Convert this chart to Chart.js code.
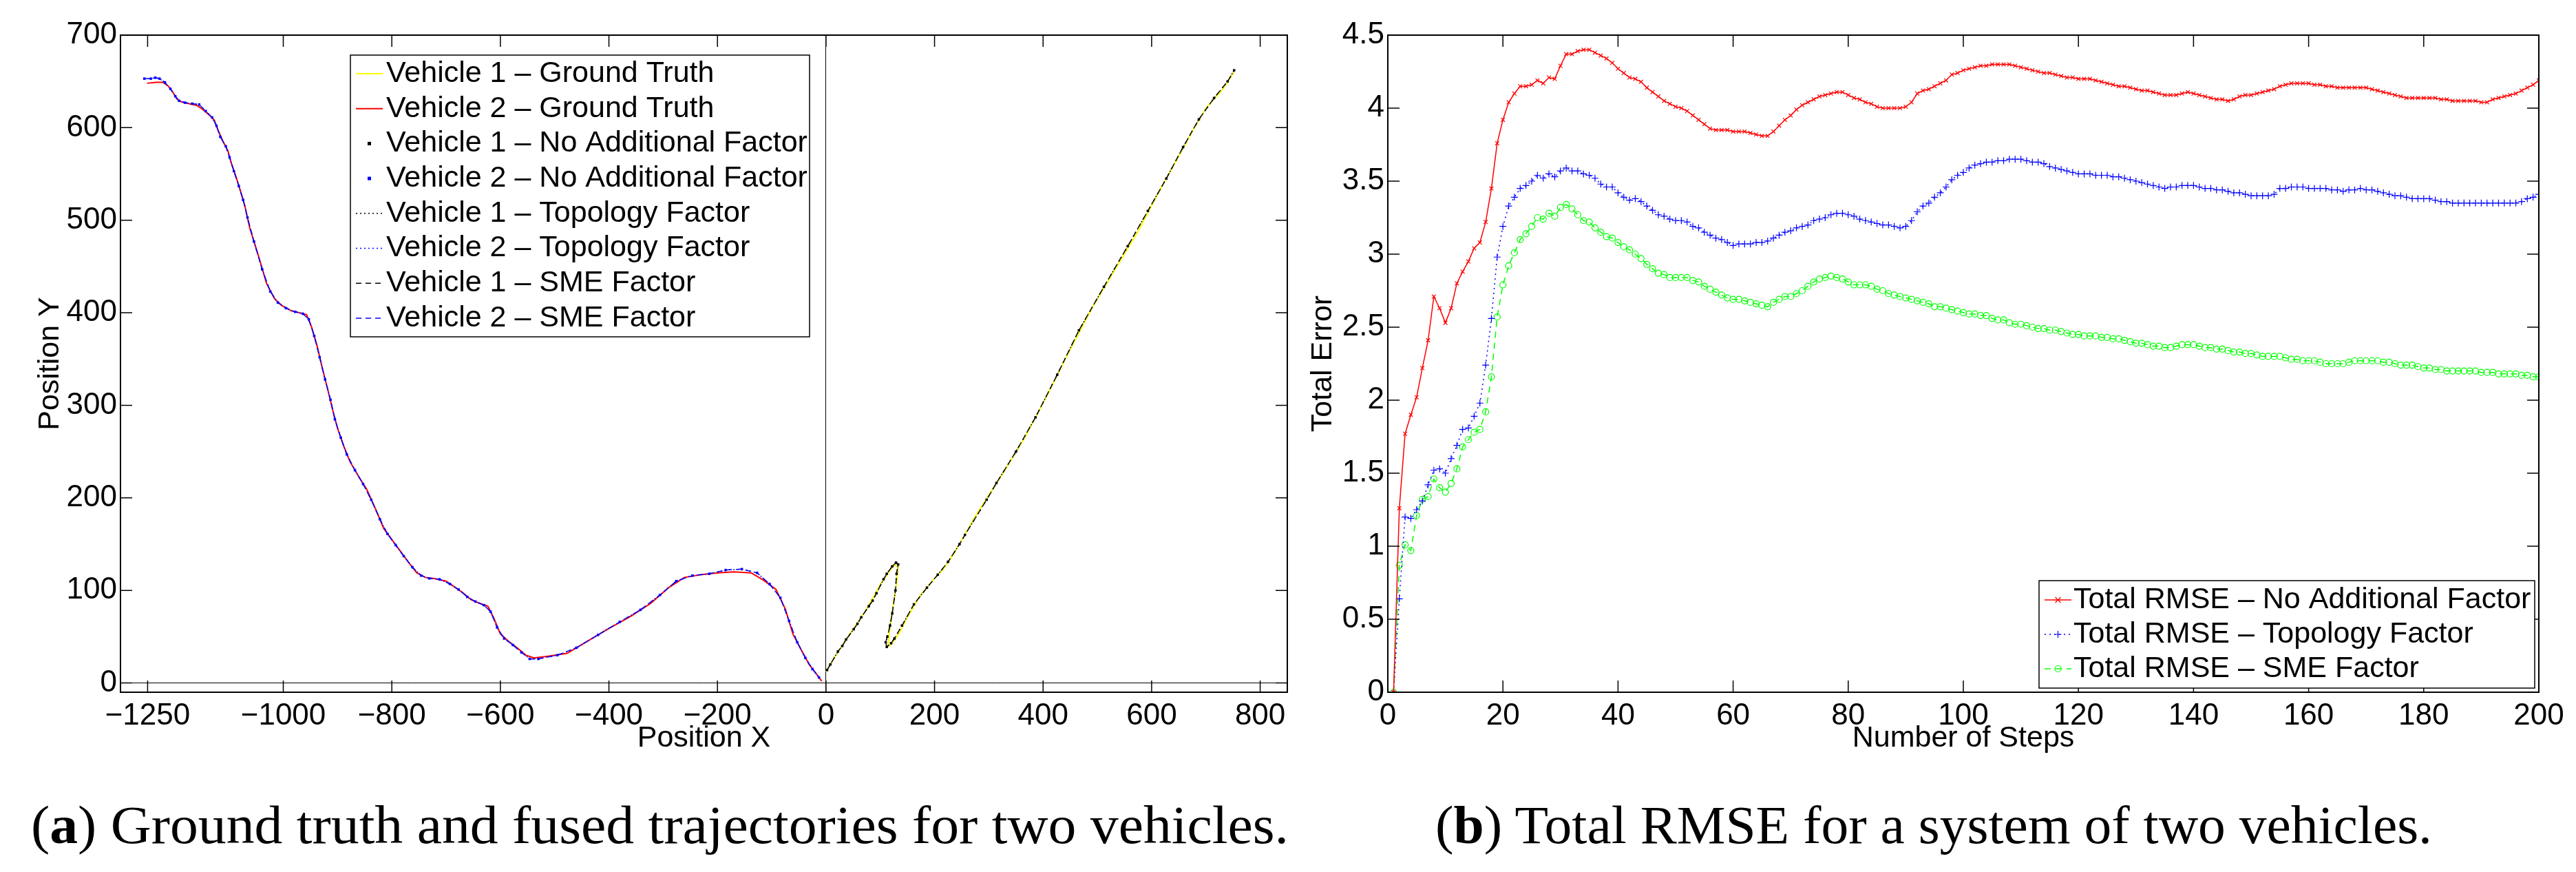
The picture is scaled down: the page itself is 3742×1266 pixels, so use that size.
<!DOCTYPE html>
<html>
<head>
<meta charset="utf-8">
<script src="https://cdn.jsdelivr.net/npm/chart.js@4.4.0/dist/chart.umd.min.js"></script>
<style>
  html, body { margin: 0; padding: 0; background: #fff; }
  body { width: 3742px; height: 1266px; position: relative; overflow: hidden; }
  .panel { position: absolute; top: 0; height: 1110px; }
  #leftPanel { left: 0; width: 1880px; }
  #rightPanel { left: 1880px; width: 1862px; }
  .caption { position: absolute; top: 1159px; font-family: "Liberation Serif", serif; font-size: 78px;
             line-height: 78px; white-space: nowrap; transform-origin: left top; color: #000; }
</style>
</head>
<body>
<div class="panel" id="leftPanel"><canvas id="trajChart"></canvas></div>
<div class="panel" id="rightPanel"><canvas id="rmseChart"></canvas></div>
<div class="caption" id="capA" style="left:45px">(<b>a</b>) Ground truth and fused trajectories for two vehicles.</div>
<div class="caption" id="capB" style="left:2085px">(<b>b</b>) Total RMSE for a system of two vehicles.</div>
<script>
// ---- (a) trajectories ----
const xTicksTraj = [-1250, -1000, -800, -600, -400, -200, 0, 200, 400, 600, 800];
const yTicksTraj = [0, 100, 200, 300, 400, 500, 600, 700];

const v1TruthX = [0, 15, 44, 72, 100, 117, 127, 133, 131, 125, 119, 116, 114, 118, 133, 151, 174, 197, 216, 236, 276, 333, 367, 406, 446, 491, 537, 576, 610, 644, 673, 701, 729, 752];
const v1TruthY = [12, 27, 53, 77, 106, 121, 128, 125, 112, 88, 65, 48, 40, 40, 52, 72, 95, 111, 123, 140, 181, 233, 266, 309, 356, 406, 451, 489, 527, 563, 594, 622, 640, 660];

const v1EstX = [2, 8, 22, 30, 37, 51, 58, 65, 79, 86, 93, 106, 112, 122, 129, 133, 130, 128, 122, 118, 113, 110, 112, 120, 126, 140, 162, 186, 206, 225, 246, 256, 296, 314, 350, 386, 426, 466, 512, 556, 593, 627, 658, 687, 715, 740, 752];
const v1EstY = [14, 20, 34, 40, 47, 58, 64, 71, 83, 89, 97, 112, 118, 126, 130, 128, 118, 100, 75, 62, 50, 44, 39, 43, 48, 62, 85, 103, 117, 131, 150, 160, 198, 216, 250, 287, 333, 381, 428, 472, 510, 545, 579, 609, 632, 650, 662];

const v2TruthX = [-1251, -1234, -1222, -1212, -1203, -1196, -1188, -1174, -1159, -1149, -1135, -1127, -1120, -1111, -1102, -1096, -1086, -1077, -1071, -1062, -1046, -1031, -1016, -1003, -985, -970, -957, -948, -938, -928, -918, -909, -900, -888, -877, -860, -846, -830, -815, -800, -785, -770, -754, -738, -723, -700, -685, -668, -654, -638, -623, -612, -600, -585, -569, -553, -538, -510, -477, -440, -400, -360, -323, -290, -261, -230, -200, -170, -138, -115, -92, -75, -61, -45, -31, -18, -8];
const v2TruthY = [648, 649, 649, 645, 638, 631, 628, 626, 624, 620, 613, 608, 597, 585, 575, 562, 545, 528, 516, 492, 462, 432, 415, 408, 402, 400, 398, 385, 365, 340, 317, 295, 275, 255, 239, 222, 209, 188, 167, 155, 143, 131, 119, 114, 113, 110, 104, 97, 90, 86, 83, 70, 53, 45, 38, 30, 27, 29, 32, 45, 59, 72, 86, 103, 114, 117, 119, 120, 119, 111, 101, 80, 53, 35, 20, 10, 2];

const v2EstX = [-1256, -1244, -1236, -1228, -1218, -1208, -1199, -1192, -1181, -1168, -1155, -1143, -1131, -1123, -1116, -1106, -1099, -1091, -1082, -1074, -1066, -1054, -1039, -1024, -1010, -995, -978, -964, -953, -943, -933, -923, -913, -905, -894, -883, -868, -853, -838, -822, -808, -793, -778, -762, -746, -731, -712, -693, -677, -661, -646, -630, -618, -606, -593, -577, -561, -546, -530, -495, -460, -420, -380, -342, -306, -276, -246, -215, -185, -155, -127, -104, -84, -68, -53, -38, -25, -13];
const v2EstY = [653, 653, 654, 653, 649, 642, 634, 629, 627, 626, 625, 618, 611, 602, 590, 580, 568, 553, 537, 522, 503, 477, 447, 423, 411, 405, 401, 399, 393, 375, 352, 328, 306, 285, 265, 247, 230, 215, 198, 177, 161, 149, 137, 125, 116, 113, 112, 107, 101, 93, 88, 84, 77, 60, 48, 41, 33, 26, 26, 30, 38, 52, 66, 79, 95, 110, 116, 118, 122, 123, 119, 107, 92, 67, 44, 27, 15, 6];

// ---- (b) total RMSE per step (steps 1..200) ----
const stepTicks = [0, 20, 40, 60, 80, 100, 120, 140, 160, 180, 200];
const errTicks = [0, 0.5, 1, 1.5, 2, 2.5, 3, 3.5, 4, 4.5];

const rmseNone = [0, 1.26, 1.77, 1.90, 2.02, 2.22, 2.41, 2.71, 2.63, 2.53, 2.63, 2.80, 2.88, 2.95, 3.04, 3.08, 3.22, 3.45, 3.76, 3.92,
  4.04, 4.10, 4.15, 4.15, 4.16, 4.19, 4.17, 4.21, 4.20, 4.29, 4.37, 4.37, 4.39, 4.40, 4.40, 4.38, 4.36, 4.34, 4.31, 4.27,
  4.24, 4.21, 4.20, 4.18, 4.14, 4.11, 4.08, 4.05, 4.03, 4.01, 4.00, 3.98, 3.95, 3.92, 3.89, 3.86, 3.85, 3.85, 3.85, 3.84,
  3.84, 3.84, 3.83, 3.82, 3.81, 3.81, 3.84, 3.88, 3.92, 3.95, 3.99, 4.02, 4.04, 4.06, 4.08, 4.09, 4.10, 4.11, 4.11, 4.09,
  4.07, 4.06, 4.04, 4.03, 4.01, 4.00, 4.00, 4.00, 4.00, 4.01, 4.04, 4.10, 4.12, 4.13, 4.15, 4.17, 4.19, 4.23, 4.24, 4.26,
  4.27, 4.28, 4.29, 4.29, 4.30, 4.30, 4.30, 4.30, 4.29, 4.28, 4.27, 4.26, 4.25, 4.24, 4.24, 4.23, 4.22, 4.21, 4.21, 4.20,
  4.20, 4.20, 4.19, 4.18, 4.17, 4.16, 4.15, 4.15, 4.14, 4.13, 4.12, 4.12, 4.11, 4.10, 4.09, 4.09, 4.09, 4.10, 4.11, 4.10,
  4.09, 4.08, 4.07, 4.06, 4.06, 4.05, 4.06, 4.08, 4.09, 4.09, 4.10, 4.11, 4.12, 4.13, 4.15, 4.16, 4.17, 4.17, 4.17, 4.17,
  4.16, 4.16, 4.15, 4.15, 4.14, 4.14, 4.14, 4.14, 4.14, 4.14, 4.13, 4.12, 4.11, 4.10, 4.09, 4.08, 4.07, 4.07, 4.07, 4.07,
  4.07, 4.07, 4.06, 4.06, 4.05, 4.05, 4.05, 4.05, 4.05, 4.04, 4.04, 4.06, 4.07, 4.08, 4.09, 4.10, 4.12, 4.14, 4.16, 4.19];

const rmseTopology = [0, 0.64, 1.20, 1.19, 1.25, 1.31, 1.42, 1.52, 1.53, 1.50, 1.60, 1.69, 1.80, 1.81, 1.89, 1.98, 2.24, 2.56, 2.98, 3.19,
  3.33, 3.39, 3.45, 3.47, 3.50, 3.54, 3.52, 3.55, 3.53, 3.57, 3.59, 3.57, 3.57, 3.55, 3.54, 3.52, 3.48, 3.46, 3.46, 3.42,
  3.39, 3.37, 3.38, 3.36, 3.33, 3.30, 3.27, 3.26, 3.24, 3.23, 3.23, 3.22, 3.19, 3.18, 3.15, 3.13, 3.11, 3.10, 3.08, 3.06,
  3.07, 3.07, 3.07, 3.08, 3.08, 3.09, 3.11, 3.13, 3.15, 3.16, 3.18, 3.19, 3.20, 3.23, 3.24, 3.25, 3.27, 3.28, 3.28, 3.27,
  3.26, 3.24, 3.23, 3.22, 3.21, 3.20, 3.20, 3.19, 3.18, 3.19, 3.23, 3.29, 3.33, 3.35, 3.39, 3.42, 3.46, 3.51, 3.54, 3.56,
  3.59, 3.61, 3.62, 3.63, 3.63, 3.64, 3.64, 3.65, 3.65, 3.65, 3.64, 3.63, 3.63, 3.62, 3.60, 3.59, 3.58, 3.57, 3.56, 3.55,
  3.55, 3.55, 3.54, 3.54, 3.54, 3.53, 3.53, 3.52, 3.51, 3.50, 3.49, 3.48, 3.47, 3.46, 3.45, 3.46, 3.46, 3.47, 3.47, 3.47,
  3.46, 3.45, 3.45, 3.44, 3.44, 3.43, 3.42, 3.42, 3.41, 3.40, 3.40, 3.40, 3.40, 3.41, 3.45, 3.45, 3.46, 3.46, 3.46, 3.45,
  3.45, 3.45, 3.45, 3.44, 3.44, 3.43, 3.44, 3.44, 3.45, 3.44, 3.44, 3.43, 3.42, 3.41, 3.40, 3.40, 3.39, 3.38, 3.38, 3.38,
  3.38, 3.37, 3.36, 3.36, 3.35, 3.35, 3.35, 3.35, 3.35, 3.35, 3.35, 3.35, 3.35, 3.35, 3.35, 3.35, 3.36, 3.38, 3.39, 3.41];

const rmseSme = [0, 0.87, 1.01, 0.97, 1.21, 1.32, 1.34, 1.46, 1.40, 1.37, 1.43, 1.53, 1.68, 1.73, 1.78, 1.80, 1.92, 2.16, 2.57, 2.79,
  2.92, 3.01, 3.10, 3.14, 3.19, 3.25, 3.24, 3.28, 3.26, 3.32, 3.34, 3.31, 3.27, 3.23, 3.22, 3.18, 3.15, 3.12, 3.11, 3.08,
  3.05, 3.03, 3.00, 2.97, 2.93, 2.90, 2.87, 2.86, 2.84, 2.84, 2.84, 2.84, 2.82, 2.81, 2.78, 2.76, 2.74, 2.72, 2.70, 2.69,
  2.69, 2.68, 2.67, 2.66, 2.65, 2.64, 2.67, 2.69, 2.71, 2.71, 2.73, 2.75, 2.78, 2.81, 2.83, 2.84, 2.85, 2.84, 2.83, 2.81,
  2.79, 2.79, 2.79, 2.78, 2.76, 2.75, 2.73, 2.72, 2.71, 2.70, 2.69, 2.68, 2.67, 2.66, 2.64, 2.64, 2.63, 2.62, 2.61, 2.60,
  2.59, 2.59, 2.58, 2.58, 2.56, 2.55, 2.55, 2.53, 2.52, 2.52, 2.51, 2.50, 2.49, 2.49, 2.48, 2.48, 2.47, 2.46, 2.45, 2.45,
  2.44, 2.44, 2.44, 2.43, 2.43, 2.42, 2.42, 2.41, 2.40, 2.39, 2.39, 2.38, 2.37, 2.37, 2.36, 2.36, 2.37, 2.38, 2.38, 2.38,
  2.37, 2.36, 2.36, 2.35, 2.35, 2.34, 2.33, 2.33, 2.32, 2.32, 2.31, 2.30, 2.30, 2.30, 2.30, 2.29, 2.28, 2.28, 2.27, 2.27,
  2.27, 2.26, 2.25, 2.25, 2.25, 2.25, 2.26, 2.27, 2.27, 2.27, 2.27, 2.27, 2.26, 2.26, 2.25, 2.24, 2.24, 2.24, 2.23, 2.22,
  2.22, 2.21, 2.21, 2.20, 2.20, 2.20, 2.20, 2.20, 2.20, 2.19, 2.19, 2.19, 2.18, 2.18, 2.18, 2.18, 2.17, 2.17, 2.16, 2.16];

const steps = rmseNone.map((_, i) => i + 1);

const pts = (xs, ys) => xs.map((x, i) => ({ x: x, y: ys[i] }));
const minusLabel = v => (v < 0 ? '\u2212' + Math.abs(v) : String(v));

Chart.defaults.font.family = '"Liberation Sans", Arial, sans-serif';
Chart.defaults.font.size = 44;
Chart.defaults.color = '#000';

function drawMarker(ctx, style, x, y, r) {
  ctx.beginPath();
  if (style === 'crossRot') {
    ctx.moveTo(x - r, y - r); ctx.lineTo(x + r, y + r);
    ctx.moveTo(x - r, y + r); ctx.lineTo(x + r, y - r);
    ctx.stroke();
  } else if (style === 'cross') {
    ctx.moveTo(x - r, y); ctx.lineTo(x + r, y);
    ctx.moveTo(x, y - r); ctx.lineTo(x, y + r);
    ctx.stroke();
  } else if (style === 'circle') {
    ctx.arc(x, y, r, 0, Math.PI * 2);
    ctx.stroke();
  } else {
    ctx.fillRect(x - r, y - r, 2 * r, 2 * r);
  }
}

// MATLAB-like box: inward ticks on all four sides, plus a boxed legend
const matlabFrame = {
  id: 'matlabFrame',
  afterDatasetsDraw(chart, args, opts) {
    const ctx = chart.ctx, a = chart.chartArea;
    const xs = chart.scales.x, ys = chart.scales.y;
    const len = opts.tickLen;
    ctx.save();
    ctx.strokeStyle = '#000';
    ctx.setLineDash([]);
    ctx.lineWidth = 1.5;
    ctx.beginPath();
    xs.ticks.forEach(t => {
      const p = xs.getPixelForValue(t.value);
      ctx.moveTo(p, a.bottom); ctx.lineTo(p, a.bottom - len);
      ctx.moveTo(p, a.top); ctx.lineTo(p, a.top + len);
    });
    ys.ticks.forEach(t => {
      const p = ys.getPixelForValue(t.value);
      ctx.moveTo(a.left, p); ctx.lineTo(a.left + len, p);
      ctx.moveTo(a.right, p); ctx.lineTo(a.right - len, p);
    });
    ctx.stroke();
    ctx.lineWidth = 2;
    ctx.strokeRect(a.left, a.top, a.right - a.left, a.bottom - a.top);

    const L = opts.legend;
    ctx.fillStyle = '#fff';
    ctx.fillRect(L.left, L.top, L.right - L.left, L.bottom - L.top);
    ctx.lineWidth = 1.5;
    ctx.strokeStyle = '#000';
    ctx.strokeRect(L.left, L.top, L.right - L.left, L.bottom - L.top);
    ctx.font = '43px "Liberation Sans", Arial, sans-serif';
    ctx.textBaseline = 'middle';
    ctx.textAlign = 'left';
    chart.data.datasets.forEach((ds, i) => {
      const y = L.rowTop + i * L.rowStep;
      if (ds.showLine) {
        ctx.strokeStyle = ds.borderColor;
        ctx.lineWidth = ds.borderWidth;
        ctx.setLineDash(ds.borderDash || []);
        ctx.beginPath();
        ctx.moveTo(L.sampleFrom, y); ctx.lineTo(L.sampleTo, y);
        ctx.stroke();
        ctx.setLineDash([]);
      }
      if (ds.pointRadius > 0) {
        ctx.strokeStyle = ds.borderColor;
        ctx.fillStyle = ds.borderColor;
        ctx.lineWidth = ds.pointBorderWidth || 1;
        drawMarker(ctx, ds.pointStyle, (L.sampleFrom + L.sampleTo) / 2, y, ds.pointRadius);
      }
      ctx.fillStyle = '#000';
      ctx.fillText(ds.label, L.textX, y);
    });
    ctx.restore();
  }
};

const zeroLine = c => (c.tick && c.tick.value === 0 ? '#000' : 'rgba(0,0,0,0)');

new Chart(document.getElementById('trajChart'), {
  type: 'scatter',
  data: {
    datasets: [
      { label: 'Vehicle 1 \u2013 Ground Truth', data: pts(v1TruthX, v1TruthY), showLine: true, borderColor: '#ffff00', borderWidth: 2, pointRadius: 0, order: 3 },
      { label: 'Vehicle 2 \u2013 Ground Truth', data: pts(v2TruthX, v2TruthY), showLine: true, borderColor: '#ff0000', borderWidth: 2, pointRadius: 0, order: 3 },
      { label: 'Vehicle 1 \u2013 No Additional Factor', data: pts(v1EstX, v1EstY), showLine: false, borderColor: '#000000', backgroundColor: '#000000', pointStyle: 'rect', pointRadius: 2.5, pointBorderWidth: 0, order: 1 },
      { label: 'Vehicle 2 \u2013 No Additional Factor', data: pts(v2EstX, v2EstY), showLine: false, borderColor: '#0000ff', backgroundColor: '#0000ff', pointStyle: 'rect', pointRadius: 2.5, pointBorderWidth: 0, order: 1 },
      { label: 'Vehicle 1 \u2013 Topology Factor', data: pts(v1EstX, v1EstY), showLine: true, borderColor: '#000000', borderWidth: 1.5, borderDash: [2, 4], pointRadius: 0, order: 2 },
      { label: 'Vehicle 2 \u2013 Topology Factor', data: pts(v2EstX, v2EstY), showLine: true, borderColor: '#0000ff', borderWidth: 1.5, borderDash: [2, 4], pointRadius: 0, order: 2 },
      { label: 'Vehicle 1 \u2013 SME Factor', data: pts(v1EstX, v1EstY), showLine: true, borderColor: '#000000', borderWidth: 1.5, borderDash: [8, 6], pointRadius: 0, order: 2 },
      { label: 'Vehicle 2 \u2013 SME Factor', data: pts(v2EstX, v2EstY), showLine: true, borderColor: '#0000ff', borderWidth: 1.5, borderDash: [8, 6], pointRadius: 0, order: 2 }
    ]
  },
  options: {
    responsive: true,
    maintainAspectRatio: false,
    animation: false,
    devicePixelRatio: 1,
    layout: { padding: { top: 51, right: 10, left: 0, bottom: 0 } },
    plugins: {
      legend: { display: false },
      tooltip: { enabled: false },
      matlabFrame: {
        tickLen: 17,
        legend: { left: 509, top: 80, right: 1176, bottom: 489, sampleFrom: 517, sampleTo: 556, textX: 561, rowTop: 107, rowStep: 50.7 }
      }
    },
    scales: {
      x: {
        type: 'linear', min: -1300, max: 850,
        afterBuildTicks: s => { s.ticks = xTicksTraj.map(v => ({ value: v })); },
        afterFit: s => { s.height = 105; },
        ticks: { padding: 8, callback: minusLabel },
        grid: { drawTicks: false, color: zeroLine, lineWidth: 1 },
        border: { display: false },
        title: { display: true, text: 'Position X', font: { size: 43 }, padding: { top: 0, bottom: 12 } }
      },
      y: {
        type: 'linear', min: -10, max: 700,
        afterBuildTicks: s => { s.ticks = yTicksTraj.map(v => ({ value: v })); },
        afterFit: s => { s.width = 175; },
        ticks: { padding: 5, callback: minusLabel },
        grid: { drawTicks: false, color: zeroLine, lineWidth: 1 },
        border: { display: false },
        title: { display: true, text: 'Position Y', font: { size: 43 }, padding: { top: 47, bottom: 0 } }
      }
    }
  },
  plugins: [matlabFrame]
});

new Chart(document.getElementById('rmseChart'), {
  type: 'line',
  data: {
    labels: steps,
    datasets: [
      { label: 'Total RMSE \u2013 No Additional Factor', data: pts(steps, rmseNone), showLine: true, borderColor: '#ff0000', backgroundColor: 'rgba(0,0,0,0)', borderWidth: 1.5, pointStyle: 'crossRot', pointRadius: 4, pointBorderWidth: 1.2, tension: 0 },
      { label: 'Total RMSE \u2013 Topology Factor', data: pts(steps, rmseTopology), showLine: true, borderColor: '#0000ff', backgroundColor: 'rgba(0,0,0,0)', borderWidth: 1.5, borderDash: [2, 5], pointStyle: 'cross', pointRadius: 5, pointBorderWidth: 1.2, tension: 0 },
      { label: 'Total RMSE \u2013 SME Factor', data: pts(steps, rmseSme), showLine: true, borderColor: '#00ff00', backgroundColor: 'rgba(0,0,0,0)', borderWidth: 1.5, borderDash: [9, 7], pointStyle: 'circle', pointRadius: 4.5, pointBorderWidth: 1.2, tension: 0 }
    ]
  },
  options: {
    responsive: true,
    maintainAspectRatio: false,
    animation: false,
    devicePixelRatio: 1,
    layout: { padding: { top: 51, right: 54, left: 0, bottom: 0 } },
    plugins: {
      legend: { display: false },
      tooltip: { enabled: false },
      matlabFrame: {
        tickLen: 17,
        legend: { left: 1082, top: 843, right: 1802, bottom: 999, sampleFrom: 1090, sampleTo: 1129, textX: 1132, rowTop: 871, rowStep: 50 }
      }
    },
    scales: {
      x: {
        type: 'linear', min: 0, max: 200,
        afterBuildTicks: s => { s.ticks = stepTicks.map(v => ({ value: v })); },
        afterFit: s => { s.height = 105; },
        ticks: { padding: 8, callback: v => String(v) },
        grid: { display: false, drawTicks: false },
        border: { display: false },
        title: { display: true, text: 'Number of Steps', font: { size: 43 }, padding: { top: 0, bottom: 12 } }
      },
      y: {
        type: 'linear', min: 0, max: 4.5,
        afterBuildTicks: s => { s.ticks = errTicks.map(v => ({ value: v })); },
        afterFit: s => { s.width = 136; },
        ticks: { padding: 5, callback: v => String(v) },
        grid: { display: false, drawTicks: false },
        border: { display: false },
        title: { display: true, text: 'Total Error', font: { size: 43 }, padding: { top: 16, bottom: 0 } }
      }
    }
  },
  plugins: [matlabFrame]
});

// stretch the serif captions to the measured widths of the reference
function fitCaption(id, target) {
  const el = document.getElementById(id);
  const w = el.getBoundingClientRect().width;
  if (w > 0) el.style.transform = 'scaleX(' + (target / w) + ')';
}
fitCaption('capA', 1827);
fitCaption('capB', 1448);
</script>
</body>
</html>
